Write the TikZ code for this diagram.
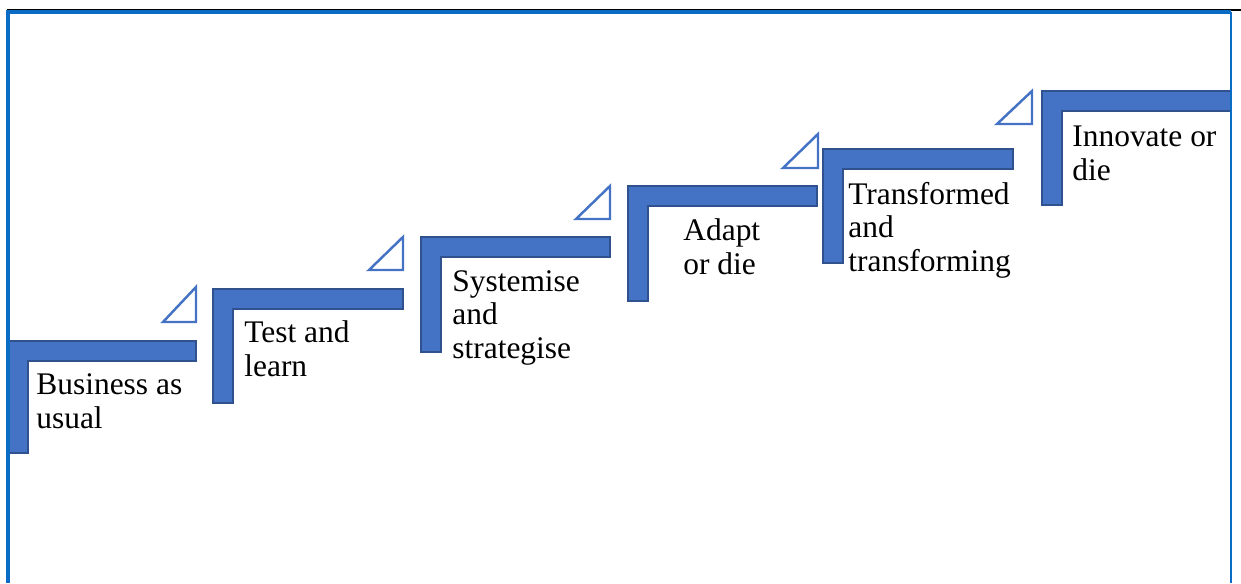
\documentclass[tikz,border=0pt]{standalone}
\usepackage{fontspec}
\setmainfont{Liberation Serif}
\usepackage{xcolor}
\definecolor{stairblue}{HTML}{4472C4}
\definecolor{stairedge}{HTML}{2F528F}
\definecolor{framecol}{HTML}{0A6CC4}
\tikzset{
    stair-bar/.style = {fill=stairblue, draw=stairedge, line width=1.1pt},
    stair-mark/.style = {draw=stairblue, line width=1.4pt, line join=miter},
    stair-text/.style = {anchor=base west, align=left, inner sep=0pt, font=\fontsize{17.9}{18.8}\selectfont},
}

\begin{document}
\begin{tikzpicture}[x=0.02cm, y=-0.02cm]
\useasboundingbox (0,0) rectangle (1241,583);
% the stairs: left, top, right, bottom
\foreach \l/\t/\r/\b in {8/341/196/453, 213/289/403/403, 421/237/610/352, 628/186/817/301, 823/149/1013/263, 1042/91/1231/205}
    \draw[stair-bar] (\l,\t) -- (\r,\t) -- (\r,\t+20) -- (\l+20,\t+20) -- (\l+20,\b) -- (\l,\b) -- cycle;
% small triangles above each step end
\foreach \l/\b/\r/\t in {163/322/196/287, 369/270/403/237, 576/219/610/186, 783/168/818/134, 997/124/1032/91}
    \draw[stair-mark] (\l,\b) -- (\r,\b) -- (\r,\t) -- cycle;
% labels, placed at the baseline of their last line
\node[stair-text] (usual) at (36,428) {Business as\\usual};
\node[stair-text] (test) at (244,376) {Test and\\learn};
\node[stair-text] (systemise) at (452,358) {Systemise\\and\\strategise};
\node[stair-text] (adapt) at (683,274) {Adapt\\or die};
\node[stair-text] (transformed) at (848,271) {Transformed\\and\\transforming};
\node[stair-text] (innovate) at (1072,180) {Innovate or\\die};
% frame
\draw[black, line width=0.9pt] (7,10) -- (1241,10);
\draw[framecol, line width=1.8pt] (8,583) -- (8,12) -- (1231,12);
\draw[framecol, line width=1.3pt] (1231,12) -- (1231,583);
\end{tikzpicture}
\end{document}
